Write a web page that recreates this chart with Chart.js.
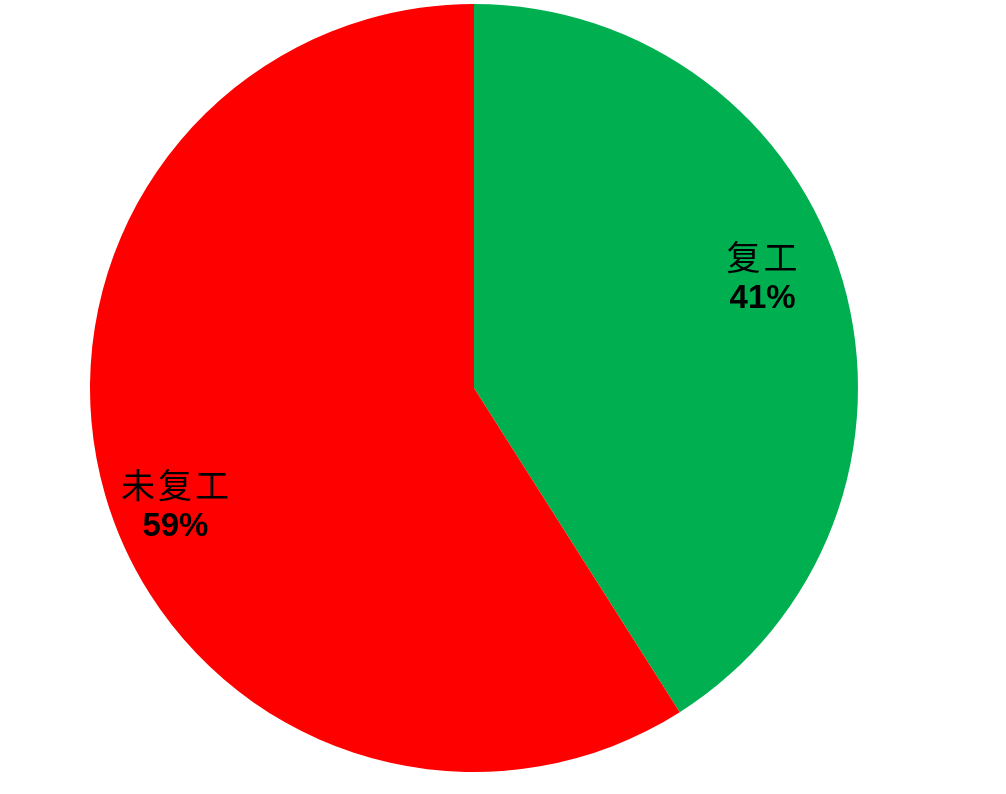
<!DOCTYPE html>
<html>
<head>
<meta charset="utf-8">
<script src="https://cdn.jsdelivr.net/npm/chart.js@4"></script>
<style>
  html, body { margin: 0; padding: 0; background: #fff; }
  #box { width: 1006px; height: 794px; }
</style>
</head>
<body>
<div id="box"><canvas id="grafico"></canvas></div>
<script>
// dados do gráfico
const categorias = ["复工", "未复工"];
const percentuais = [41, 59];
const cores = ["#00B050", "#FF0000"];

// rótulos dentro das fatias: nome + percentual
const rotulosPlugin = {
  id: "rotulos",
  afterDatasetsDraw(chart) {
    const ctx = chart.ctx;
    const meta = chart.getDatasetMeta(0);
    ctx.save();
    ctx.fillStyle = "#000";
    ctx.textAlign = "center";
    ctx.textBaseline = "middle";
    meta.data.forEach((arc, i) => {
      const meio = (arc.startAngle + arc.endAngle) / 2 - 5 * Math.PI / 180;
      const r = arc.outerRadius * 0.82;
      const x = arc.x + Math.cos(meio) * r - 5;
      const y = arc.y + Math.sin(meio) * r + 4;
      ctx.font = '34px "Noto Sans CJK SC"';
      ctx.letterSpacing = "3px";
      ctx.fillText(categorias[i], x + 1, y - 21);
      ctx.letterSpacing = "0px";
      ctx.font = 'bold 33px "Liberation Sans", Arial';
      ctx.fillText(percentuais[i] + "%", x, y + 21);
    });
    ctx.restore();
  }
};

const ctx = document.getElementById("grafico").getContext("2d");
new Chart(ctx, {
  type: "pie",
  data: {
    labels: categorias,
    datasets: [{
      data: percentuais,
      backgroundColor: cores,
      borderWidth: 0,
    }],
  },
  options: {
    responsive: true,
    maintainAspectRatio: false,
    animation: false,
    layout: { padding: { top: 4, bottom: 22, left: 0, right: 58 } },
    plugins: {
      legend: { display: false },
      tooltip: { enabled: false },
    },
  },
  plugins: [rotulosPlugin],
});
</script>
</body>
</html>
